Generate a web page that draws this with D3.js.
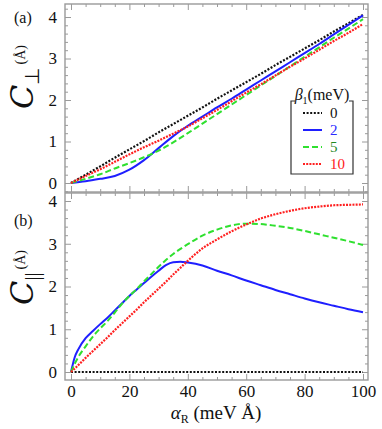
<!DOCTYPE html>
<html>
<head>
<meta charset="utf-8">
<script src="https://cdn.jsdelivr.net/npm/d3@7"></script>
<style>
  body { margin: 0; background: #fff; }
</style>
</head>
<body>
<div id="chart"></div>
<script>
// alpha_R grid (meV Å)
const alphaTop = [0, 5, 10, 15, 20, 25, 30, 35, 40, 45, 50, 55, 60, 65, 70, 75, 80, 85, 90, 95, 100];
const perp0  = [0, 0.2, 0.4, 0.61, 0.81, 1.01, 1.22, 1.42, 1.62, 1.82, 2.03, 2.23, 2.43, 2.63, 2.84, 3.04, 3.24, 3.44, 3.65, 3.85, 4.05];
const perp2  = [0, 0.04, 0.1, 0.17, 0.32, 0.55, 0.84, 1.13, 1.38, 1.6, 1.82, 2.03, 2.25, 2.47, 2.69, 2.91, 3.13, 3.35, 3.58, 3.81, 4.04];
const perp5  = [0, 0.1, 0.21, 0.35, 0.48, 0.62, 0.78, 0.98, 1.2, 1.43, 1.66, 1.89, 2.12, 2.35, 2.58, 2.81, 3.04, 3.27, 3.5, 3.72, 3.95];
const perp10 = [0, 0.17, 0.33, 0.51, 0.69, 0.86, 1.02, 1.19, 1.36, 1.56, 1.76, 1.97, 2.18, 2.38, 2.59, 2.8, 3.0, 3.21, 3.42, 3.62, 3.83];

const alphaBot = [0, 1.25, 2.5, 5, 7.5, 10, 12.5, 15, 17.5, 20, 22.5, 25, 27.5, 30, 32.5, 35, 37.5, 40, 45, 50, 55, 60, 65, 70, 75, 80, 85, 90, 95, 100];
const par0  = alphaBot.map(() => 0);
const par2  = [0, 0.34, 0.53, 0.79, 0.96, 1.12, 1.27, 1.44, 1.61, 1.78, 1.93, 2.08, 2.23, 2.37, 2.5, 2.57, 2.58, 2.56, 2.49, 2.37, 2.26, 2.14, 2.03, 1.92, 1.82, 1.72, 1.63, 1.55, 1.47, 1.4];
const par5  = [0, 0.19, 0.35, 0.6, 0.83, 1.02, 1.19, 1.39, 1.6, 1.78, 1.94, 2.12, 2.29, 2.46, 2.62, 2.76, 2.88, 2.99, 3.19, 3.33, 3.43, 3.47, 3.46, 3.42, 3.37, 3.3, 3.22, 3.14, 3.06, 2.97];
const par10 = [0, 0.08, 0.16, 0.33, 0.49, 0.65, 0.81, 0.98, 1.14, 1.3, 1.46, 1.63, 1.79, 1.95, 2.11, 2.28, 2.44, 2.6, 2.89, 3.1, 3.29, 3.45, 3.59, 3.69, 3.77, 3.83, 3.87, 3.9, 3.91, 3.92];

const betaLabels = ["0", "2", "5", "10"];
const xTicks = [0, 20, 40, 60, 80, 100];
const yTicks = [0, 1, 2, 3, 4];

const styles = [
  { color: "#111", dash: "2,1.6", width: 2.2, text: "#111" },
  { color: "#1f1fff", dash: null, width: 2, text: "#2a2aff" },
  { color: "#2fe02f", dash: "6,3", width: 2, text: "#1f8a1f" },
  { color: "#ff2020", dash: "2,1.2", width: 2.2, text: "#ff1a1a" }
];

const serif = '"Liberation Serif"';

const W = 382, H = 429;
const svg = d3.select("#chart").append("svg")
  .attr("width", W).attr("height", H)
  .style("font-family", serif);

const frameL = 65, frameR = 368;
const x = d3.scaleLinear().domain([0, 100]).range([71, 363]);

const panels = [
  { top: 4, bottom: 192, y: d3.scaleLinear().domain([0, 4]).range([183, 17]),
    alpha: alphaTop, series: [perp0, perp2, perp5, perp10], label: "(a)", labelY: 23, sub: "\u22A5", titleY: 109 },
  { top: 193, bottom: 380, y: d3.scaleLinear().domain([0, 4]).range([372, 201]),
    alpha: alphaBot, series: [par0, par2, par5, par10], label: "(b)", labelY: 226, sub: "||", titleY: 305 }
];

const grey = "#9a9a9a";

panels.forEach((p, pi) => {
  const g = svg.append("g");
  const yMin = p.y.invert(p.bottom), yMax = p.y.invert(p.top);
  const yMinor = d3.range(-1, 23).map(i => +(i * 0.2).toFixed(1))
    .filter(v => v >= yMin && v <= yMax && Math.abs(v - Math.round(v)) > 1e-6);
  const xMinor = d3.range(0, 101, 5).filter(v => v % 20 !== 0);

  // clip to frame
  const clipId = "clip" + pi;
  svg.append("clipPath").attr("id", clipId).append("rect")
    .attr("x", frameL).attr("y", p.top).attr("width", frameR - frameL).attr("height", p.bottom - p.top);

  // ticks: left, right, bottom, top (all inward)
  const mk = (axisFn, scale, vals, size, pos, labels) => {
    const a = axisFn(scale).tickValues(vals).tickSize(size).tickPadding(8)
      .tickFormat(labels ? d3.format("d") : "");
    const ga = g.append("g").attr("transform", pos).call(a);
    ga.attr("font-family", null);
    ga.select(".domain").remove();
    ga.selectAll("line").attr("stroke", grey).attr("stroke-width", 1);
    ga.selectAll("text").attr("fill", "#111").style("font-size", "17px")
      .style("font-family", serif);
    return ga;
  };
  mk(d3.axisLeft, p.y, yTicks, -6, `translate(${frameL},0)`, true);
  mk(d3.axisLeft, p.y, yMinor, -3, `translate(${frameL},0)`, false);
  mk(d3.axisRight, p.y, yTicks, -6, `translate(${frameR},0)`, false);
  mk(d3.axisRight, p.y, yMinor, -3, `translate(${frameR},0)`, false);
  mk(d3.axisTop, x, xTicks, -6, `translate(0,${p.top})`, false);
  mk(d3.axisTop, x, xMinor, -3, `translate(0,${p.top})`, false);
  mk(d3.axisBottom, x, xTicks, -6, `translate(0,${p.bottom})`, pi === 1)
    .selectAll("text").attr("dy", "0.5em");
  mk(d3.axisBottom, x, xMinor, -3, `translate(0,${p.bottom})`, false);

  // frame
  g.append("rect").attr("x", frameL).attr("y", p.top)
    .attr("width", frameR - frameL).attr("height", p.bottom - p.top)
    .attr("fill", "none").attr("stroke", grey).attr("stroke-width", 1.4);

  // curves
  const line = d3.line().x(d => x(d[0])).y(d => p.y(d[1])).curve(d3.curveMonotoneX);
  p.series.forEach((vals, i) => {
    const s = styles[i];
    g.append("path")
      .datum(p.alpha.map((a, k) => [a, vals[k]]))
      .attr("clip-path", `url(#${clipId})`)
      .attr("fill", "none")
      .attr("stroke", s.color)
      .attr("stroke-width", s.width)
      .attr("stroke-dasharray", s.dash)
      .attr("d", line);
  });

  // panel label
  g.append("text").attr("x", 14).attr("y", p.labelY)
    .style("font-size", "16px").attr("fill", "#111").text(p.label);

  // y title
  const t = g.append("text")
    .attr("transform", `translate(33,${p.titleY}) rotate(-90)`)
    .attr("fill", "#111");
  t.append("tspan").style("font-size", "32px").style("font-style", "italic")
    .style("font-family", '"DejaVu Serif"').text("C");
  t.append("tspan").style("font-size", "20px").attr("dy", 6).text(p.sub);
  t.append("tspan").style("font-size", "14px").attr("dy", -14).attr("dx", 3).text("(Å)");
});

// x title
const xt = svg.append("text").attr("x", 216).attr("y", 419)
  .attr("text-anchor", "middle").style("font-size", "19px").attr("fill", "#111");
xt.append("tspan").style("font-style", "italic").text("α");
xt.append("tspan").style("font-size", "12px").attr("dy", 4).text("R");
xt.append("tspan").attr("dy", -4).text(" (meV Å)");

// legend
const lg = svg.append("g");
const lx0 = 291, lx1 = 353, ly0 = 101, ly1 = 174;
lg.append("path")
  .attr("d", `M${lx0 + 4},${ly0} H${lx0} V${ly1} H${lx1} V${ly0} H${lx1 - 4}`)
  .attr("fill", "none").attr("stroke", "#333").attr("stroke-width", 1.2);
const lt = lg.append("text").attr("x", (lx0 + lx1) / 2).attr("y", 100)
  .attr("text-anchor", "middle").style("font-size", "16px").attr("fill", "#111");
lt.append("tspan").style("font-style", "italic").text("β");
lt.append("tspan").style("font-size", "10px").attr("dy", 4).text("1");
lt.append("tspan").attr("dy", -4).text("(meV)");

const legY = d3.scalePoint().domain(betaLabels).range([113, 164]);
betaLabels.forEach((b, i) => {
  const s = styles[i];
  lg.append("line")
    .attr("x1", 303).attr("x2", 322)
    .attr("y1", legY(b)).attr("y2", legY(b))
    .attr("stroke", s.color).attr("stroke-width", s.width)
    .attr("stroke-dasharray", s.dash);
  lg.append("text").attr("x", 330).attr("y", legY(b) + 5)
    .style("font-size", "15px").attr("fill", s.text).text(b);
});
</script>
</body>
</html>
